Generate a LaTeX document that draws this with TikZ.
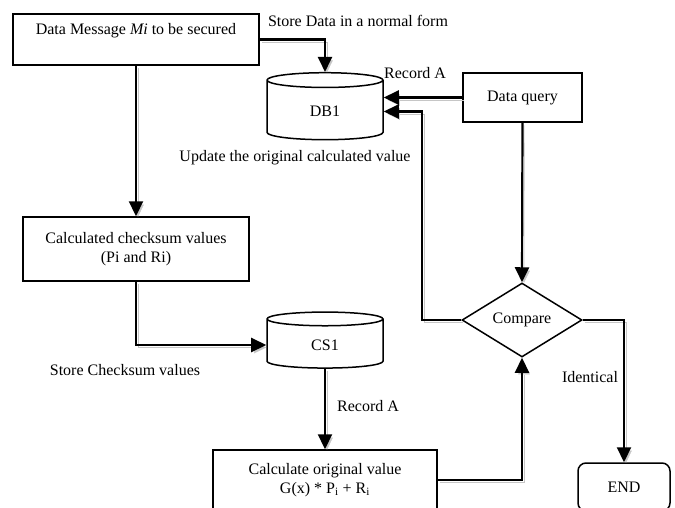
\documentclass[tikz,border=0pt]{standalone}
\usepackage{fontspec}
\setmainfont{Liberation Serif}
\usetikzlibrary{arrows.meta,calc,positioning,shapes.geometric}
\tikzset{%
	block/.style    = {draw, rectangle, line width=1.5pt, align=center, fill=white}, % Process
	store/.style    = {draw, cylinder, shape border rotate=90, aspect=0.4, line width=1.5pt, fill=white}, % Database
	decision/.style = {draw, diamond, line width=1.5pt, inner sep=0pt, fill=white}, % Test
	terminal/.style = {draw, rectangle, rounded corners=8pt, line width=1.5pt, fill=white}, % End
	flow/.style     = {-{Triangle[length=15pt,width=14pt]}, line width=2.2pt,
	                   preaction={draw=gray!45, transform canvas={xshift=2pt, yshift=-2.5pt}}}, % Connector
	note/.style     = {inner sep=1pt}, % Label
}

\begin{document}
\begin{tikzpicture}[x=1pt, y=-1pt, font=\fontsize{16}{18.5}\selectfont]
		\useasboundingbox (0,0) rectangle (675,507);
		\begin{scope}
		\clip (0,0) rectangle (675,507);
		\node[block, minimum width=246pt, minimum height=51pt] (msg) at (136,39.5) {Data Message \textit{Mi} to be secured\\[3pt]};
		\node[store, minimum width=116pt, minimum height=67pt] (db) at (325,111.5) {DB1};
		\node[block, minimum width=119pt, minimum height=49pt] (query) at (522.5,97.5) {Data query};
		\node[block, minimum width=226pt, minimum height=64pt] (calc) at (136,249) {Calculated checksum values\\(Pi and Ri)};
		\node[decision, minimum width=120pt, minimum height=74pt] (cmp) at (522,320) {Compare};
		\node[store, minimum width=116pt, minimum height=56pt] (cs) at (325,345) {CS1};
		\node[block, minimum width=224pt, minimum height=60pt] (orig) at (325,480) {Calculate original value\\G(x) * P\textsubscript{i} + R\textsubscript{i}};
		\node[terminal, minimum width=92pt, minimum height=48pt] (end) at (624,487) {END};
		\end{scope}

		\node[note] (lstore) at (358,21) {Store Data in a normal form};
		\node[note] (lrec) at (415,73) {Record A};
		\node[note] (lupd) at (295,158) {Update the original calculated value};
		\node[note] (lchk) at (125,370) {Store Checksum values};
		\node[note] (lrec2) at (368,406) {Record A};
		\node[note] (lid) at (590,377) {Identical};

		\draw[flow] (msg.east) -| (db.north);
		\draw[flow] (query.west) -- (query.west -| db.east);
		\draw[flow] (cmp.west) -| ([xshift=38pt]db.east) -- (db.east);
		\draw[flow] (query.south) -- (cmp.north);
		\draw[flow] (msg.south) -- (calc.north);
		\draw[flow] (calc.south) |- (cs.west);
		\draw[flow] (cs.south) -- (orig.north);
		\draw[flow] (orig.east) -| (cmp.south);
		\draw[flow] (cmp.east) -| (end.north);

		\end{tikzpicture}
\end{document}
